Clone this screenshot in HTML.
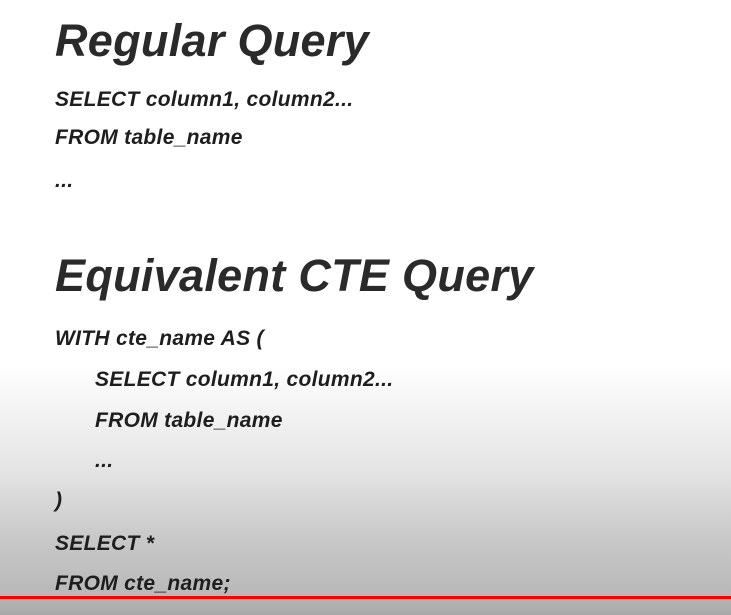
<!DOCTYPE html>
<html><head><style>
body{margin:0;width:731px;height:615px;overflow:hidden;position:relative;
background:linear-gradient(to bottom,#fff 0,#fff 365px,#e4e4e4 470px,#c8c8c8 540px,#b8b8b8 596px,#a8a8a8 615px);
font-family:"Liberation Sans",sans-serif;font-style:italic;font-weight:bold;color:#1e1e1e}
.t{position:absolute;white-space:nowrap;line-height:1}
.h{font-size:45px;letter-spacing:0.3px;color:#2a2a2a}
.c{font-size:21px;letter-spacing:0.3px}
.red{position:absolute;left:0;top:596px;width:731px;height:3px;background:#f00}
</style></head><body>
<div class="t h" style="left:55px;top:18px">Regular Query</div>
<div class="t c" style="left:55px;top:89px">SELECT column1, column2...</div>
<div class="t c" style="left:55px;top:127px">FROM table_name</div>
<div class="t c" style="left:55px;top:170px">...</div>
<div class="t h" style="left:55px;top:253px">Equivalent CTE Query</div>
<div class="t c" style="left:55px;top:328px">WITH cte_name AS (</div>
<div class="t c" style="left:95px;top:369px">SELECT column1, column2...</div>
<div class="t c" style="left:95px;top:410px">FROM table_name</div>
<div class="t c" style="left:95px;top:450px">...</div>
<div class="t c" style="left:55px;top:490px">)</div>
<div class="t c" style="left:55px;top:533px">SELECT *</div>
<div class="t c" style="left:55px;top:573px">FROM cte_name;</div>
<div class="red"></div>
</body></html>
